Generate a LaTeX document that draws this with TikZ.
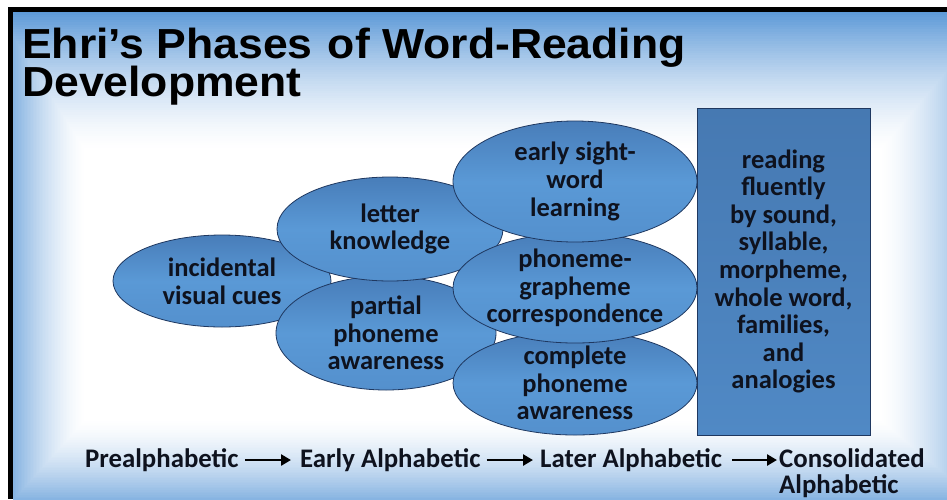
\documentclass[tikz,border=0pt]{standalone}
\usepackage{fontspec}
\setmainfont{Carlito}
\newfontfamily\headfont[FakeStretch=1.06]{Liberation Sans}
\usetikzlibrary{arrows.meta,shapes.geometric}

\definecolor{bgblue}{RGB}{88,150,214}
\definecolor{edgeblue}{RGB}{31,56,96}
\definecolor{elltop}{RGB}{72,125,185}
\definecolor{ellmid}{RGB}{90,153,214}
\definecolor{ellbot}{RGB}{84,144,205}
\definecolor{boxtop}{RGB}{70,121,178}
\definecolor{boxbot}{RGB}{80,137,197}
\definecolor{ink}{RGB}{14,18,30}

\tikzset{
  blob/.style={ellipse, draw=edgeblue, line width=0.8pt, inner sep=0pt,
    top color=elltop, bottom color=ellbot, middle color=ellmid},
  fluentbox/.style={rectangle, draw=edgeblue, line width=0.8pt, inner sep=0pt,
    top color=boxtop, bottom color=boxbot},
  lbl/.style={align=center, inner sep=0pt, text=ink,
    font=\fontsize{26.5}{27.6}\selectfont\bfseries},
  stage/.style={inner sep=0pt, text=ink, anchor=base west,
    font=\fontsize{26.8}{26}\selectfont\bfseries},
  flow/.style={line width=2.6pt, -{Triangle[length=10pt,width=11pt]}},
  headline/.style={inner sep=0pt, anchor=base west, text=black,
    font=\headfont\fontsize{42}{42}\selectfont\bfseries}
}

\begin{document}
\begin{tikzpicture}[x=1pt,y=-1pt]
\useasboundingbox (0,0) rectangle (947,499);

% slide background: rectangular gradient, blue edges to white centre
\fill[white] (0,0) rectangle (947,499);
\begin{scope}
  \clip (13,12) rectangle (947,499);
  \foreach \i in {0,...,60} {
    \pgfmathsetmacro\pc{100*(1-\i/60)*sqrt(1-\i/60)}
    \fill[bgblue!\pc!white] (-5+1.5*\i, 8+2.37*\i) rectangle (1000-2*\i, 520-1.67*\i);
  }
\end{scope}

% frame
\fill[black] (8,7) rectangle (947,12);
\fill[black] (8,7) rectangle (13,499);

% heading
\node[headline] (head1) at (22,58) {Ehri’s Phases\kern3pt{} of Word-Reading};
\node[headline] (head2) at (22,96) {Development};

% prealphabetic
\node[blob, minimum width=218, minimum height=92] (vis) at (222,281) {};
\node[lbl] (vistext) at (vis) {incidental\\visual cues};

% early alphabetic
\node[blob, minimum width=220, minimum height=114] (par) at (386,333) {};
\node[lbl] (partext) at (par) {partial\\phoneme\\awareness};
\node[blob, minimum width=226, minimum height=104] (let) at (390,229) {};
\node[lbl] (lettext) at (let) {letter\\knowledge};

% later alphabetic
\node[blob, minimum width=244, minimum height=104] (cpa) at (575,383) {};
\node[lbl] (cpatext) at (cpa) {complete\\phoneme\\awareness};
\node[blob, minimum width=244, minimum height=110] (pgc) at (575,288) {};
\node[lbl] (pgctext) at (pgc) {phoneme-\\grapheme\\correspondence};
\node[blob, minimum width=244, minimum height=121] (esw) at (575,181.5) {};
\node[lbl] (eswtext) at (esw) {early sight-\\word\\learning};

% consolidated alphabetic
\node[fluentbox, minimum width=173, minimum height=327] (flu) at (783.5,271.5) {};
\node[lbl] (flutext) at (flu) {reading\\fluently\\by sound,\\syllable,\\morpheme,\\whole word,\\families,\\and\\analogies};

% phase sequence
\node[stage] (pre) at (85,467) {Prealphabetic};
\node[stage] (ear) at (300,467) {Early Alphabetic};
\node[stage] (lat) at (540,467) {Later Alphabetic};
\node[stage] (con) at (779,467) {Consolidated};
\node[stage] (con2) at (779,493) {Alphabetic};

\draw[flow] ([yshift=7pt,xshift=6pt]pre.base east) -- ([yshift=7pt,xshift=-9pt]ear.base west);
\draw[flow] ([yshift=7pt,xshift=6pt]ear.base east) -- ([yshift=7pt,xshift=-7pt]lat.base west);
\draw[flow] ([yshift=7pt,xshift=10pt]lat.base east) -- ([yshift=7pt,xshift=-2pt]con.base west);
\end{tikzpicture}
\end{document}
